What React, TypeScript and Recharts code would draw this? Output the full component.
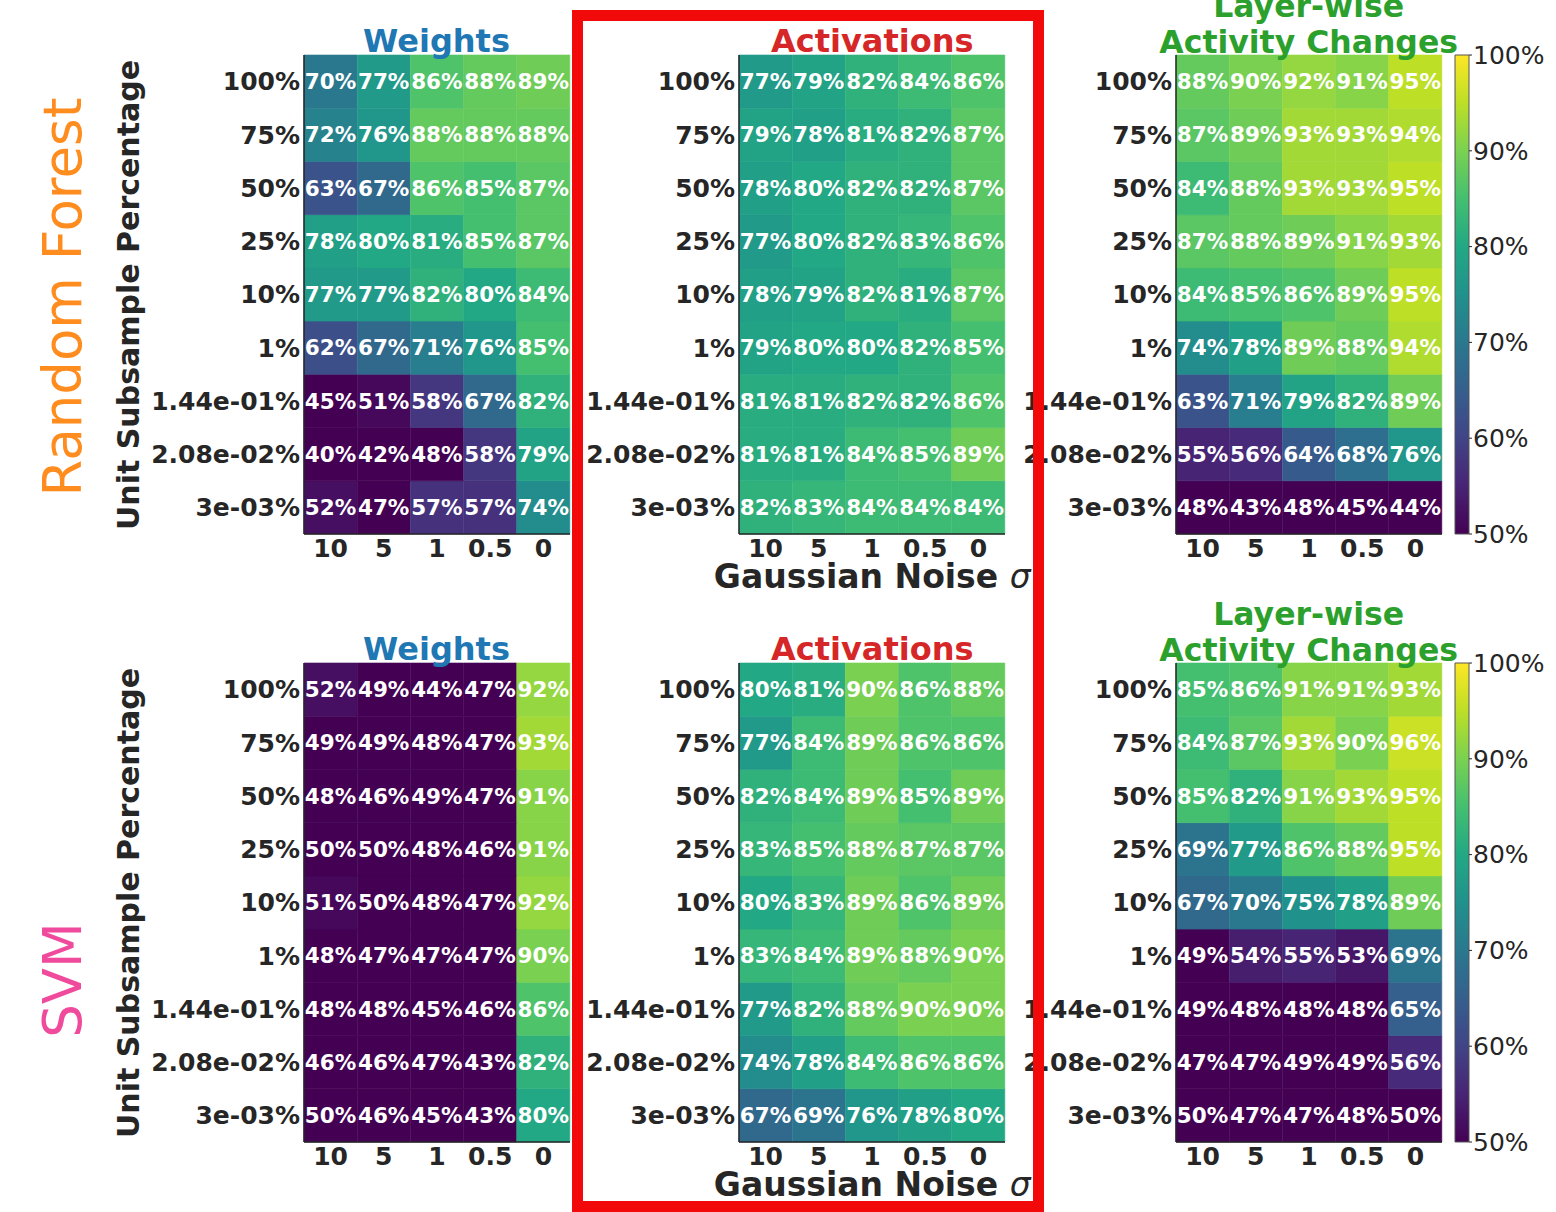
import React from 'react';
import { BarChart, Bar, XAxis, YAxis, Cell, LabelList } from 'recharts';

// ---------- data ----------
const noiseLevels = ['10', '5', '1', '0.5', '0'];
const subsampleLabels = ['100%', '75%', '50%', '25%', '10%', '1%', '1.44e-01%', '2.08e-02%', '3e-03%'];
const colorbarTicks = [50, 60, 70, 80, 90, 100];

const rfWeights = [
  [70, 77, 86, 88, 89],
  [72, 76, 88, 88, 88],
  [63, 67, 86, 85, 87],
  [78, 80, 81, 85, 87],
  [77, 77, 82, 80, 84],
  [62, 67, 71, 76, 85],
  [45, 51, 58, 67, 82],
  [40, 42, 48, 58, 79],
  [52, 47, 57, 57, 74],
];
const rfActivations = [
  [77, 79, 82, 84, 86],
  [79, 78, 81, 82, 87],
  [78, 80, 82, 82, 87],
  [77, 80, 82, 83, 86],
  [78, 79, 82, 81, 87],
  [79, 80, 80, 82, 85],
  [81, 81, 82, 82, 86],
  [81, 81, 84, 85, 89],
  [82, 83, 84, 84, 84],
];
const rfLayerwise = [
  [88, 90, 92, 91, 95],
  [87, 89, 93, 93, 94],
  [84, 88, 93, 93, 95],
  [87, 88, 89, 91, 93],
  [84, 85, 86, 89, 95],
  [74, 78, 89, 88, 94],
  [63, 71, 79, 82, 89],
  [55, 56, 64, 68, 76],
  [48, 43, 48, 45, 44],
];
const svmWeights = [
  [52, 49, 44, 47, 92],
  [49, 49, 48, 47, 93],
  [48, 46, 49, 47, 91],
  [50, 50, 48, 46, 91],
  [51, 50, 48, 47, 92],
  [48, 47, 47, 47, 90],
  [48, 48, 45, 46, 86],
  [46, 46, 47, 43, 82],
  [50, 46, 45, 43, 80],
];
const svmActivations = [
  [80, 81, 90, 86, 88],
  [77, 84, 89, 86, 86],
  [82, 84, 89, 85, 89],
  [83, 85, 88, 87, 87],
  [80, 83, 89, 86, 89],
  [83, 84, 89, 88, 90],
  [77, 82, 88, 90, 90],
  [74, 78, 84, 86, 86],
  [67, 69, 76, 78, 80],
];
const svmLayerwise = [
  [85, 86, 91, 91, 93],
  [84, 87, 93, 90, 96],
  [85, 82, 91, 93, 95],
  [69, 77, 86, 88, 95],
  [67, 70, 75, 78, 89],
  [49, 54, 55, 53, 69],
  [49, 48, 48, 48, 65],
  [47, 47, 49, 49, 56],
  [50, 47, 47, 48, 50],
];

// ---------- colormap ----------
const viridisStops = ['#440154', '#482475', '#414487', '#355f8d', '#2a788e', '#21918c', '#22a884', '#44bf70', '#7ad151', '#bddf26', '#fde725'];
const hex = (h: string) => [1, 3, 5].map((i) => parseInt(h.slice(i, i + 2), 16));
function viridis(v: number) {
  let t = (v - 50) / 50;
  t = Math.max(0, Math.min(1, t));
  const p = t * 10;
  const i = Math.min(9, Math.floor(p));
  const f = p - i;
  const a = hex(viridisStops[i]);
  const b = hex(viridisStops[i + 1]);
  const c = a.map((x, k) => Math.round(x + (b[k] - x) * f));
  return `rgb(${c[0]},${c[1]},${c[2]})`;
}

// ---------- layout ----------
const FONT = 'DejaVu Sans';
const DARK = '#262626';
const PX = [303.5, 739.2, 1175.7];
const PY = [55.3, 663.3];
const PW = 266;
const PH = 479;
const YW = 230;
const MT = 2;
const MR = 2;
const XH = 45;
const CBX = 1455;
const CBW = 14;
const CBMT = 20;

const border = { stroke: DARK, strokeWidth: 1.5 };
const tickStyle = { fill: DARK, fontSize: 25, fontWeight: 'bold', fontFamily: FONT };

function buildData(m: number[][]) {
  return noiseLevels.map((col, j) => {
    const d: any = { col };
    for (let k = 0; k < 9; k++) {
      d['r' + k] = 1;
      d['v' + k] = m[8 - k][j];
    }
    return d;
  });
}

function Heatmap({ matrix, left, top }: { matrix: number[][]; left: number; top: number }) {
  const data = buildData(matrix);
  const bars = [];
  for (let k = 0; k < 9; k++) {
    bars.push(
      <Bar key={k} dataKey={'r' + k} stackId="s" isAnimationActive={false}>
        {noiseLevels.map((_, j) => {
          const c = viridis(matrix[8 - k][j]);
          return <Cell key={j} fill={c} stroke={c} strokeWidth={0.6} />;
        })}
        <LabelList
          dataKey={'v' + k}
          position="center"
          formatter={(v: any) => `${v}%`}
          fill="#ffffff"
          fontSize={21.5}
          fontWeight="bold"
          fontFamily={FONT}
        />
      </Bar>
    );
  }
  return (
    <div style={{ position: 'absolute', left: left - YW, top: top - MT }}>
      <BarChart
        width={YW + PW + MR}
        height={MT + PH + XH}
        data={data}
        margin={{ top: MT, right: MR, bottom: 0, left: 0 }}
        barCategoryGap={0}
        barGap={0}
      >
        <XAxis
          dataKey="col"
          type="category"
          height={XH}
          tickSize={0}
          tickMargin={5}
          tick={tickStyle}
          tickLine={false}
          axisLine={border}
          interval={0}
        />
        <XAxis xAxisId="top" orientation="top" dataKey="col" height={0} tick={false} tickLine={false} axisLine={border} />
        <YAxis
          type="number"
          domain={[0, 9]}
          ticks={[0.5, 1.5, 2.5, 3.5, 4.5, 5.5, 6.5, 7.5, 8.5]}
          width={YW}
          tickSize={0}
          tickMargin={4}
          tickFormatter={(v: number) => subsampleLabels[8 - Math.floor(v)]}
          tick={tickStyle}
          tickLine={false}
          axisLine={border}
          interval={0}
        />
        <YAxis yAxisId="right" orientation="right" type="number" domain={[0, 9]} width={0} tick={false} tickLine={false} axisLine={border} />
        {bars}
      </BarChart>
    </div>
  );
}

function Colorbar({ top, id }: { top: number; id: string }) {
  return (
    <div style={{ position: 'absolute', left: CBX - 2, top: top - CBMT }}>
      <BarChart
        width={2 + CBW + 100}
        height={CBMT + PH + 20}
        data={[{ c: 'cb', range: [50, 100] }]}
        margin={{ top: CBMT, right: 0, bottom: 20, left: 2 }}
        barCategoryGap={0}
      >
        <defs>
          <linearGradient id={id} x1="0" y1="1" x2="0" y2="0">
            {viridisStops.map((c, i) => (
              <stop key={i} offset={`${i * 10}%`} stopColor={c} />
            ))}
          </linearGradient>
        </defs>
        <XAxis dataKey="c" hide />
        <YAxis
          orientation="right"
          type="number"
          domain={[50, 100]}
          ticks={colorbarTicks}
          width={100}
          tickSize={3}
          tickMargin={1}
          tickFormatter={(v: number) => `${v}%`}
          axisLine={false}
          tickLine={{ stroke: DARK }}
          tick={{ fill: DARK, fontSize: 25, fontFamily: FONT }}
          interval={0}
        />
        <Bar dataKey="range" fill={`url(#${id})`} stroke="#555" strokeWidth={1} isAnimationActive={false} />
      </BarChart>
    </div>
  );
}

const rows = [
  { name: 'Random Forest', color: '#ff8c1f', mats: [rfWeights, rfActivations, rfLayerwise] },
  { name: 'SVM', color: '#f04a9c', mats: [svmWeights, svmActivations, svmLayerwise] },
];

export default function App() {
  return (
    <div style={{ position: 'absolute', left: 0, top: 0, width: 1556, height: 1212, background: '#fff', fontFamily: FONT }}>
      {rows.map((row, r) =>
        row.mats.map((m, c) => <Heatmap key={`${r}-${c}`} matrix={m} left={PX[c]} top={PY[r]} />)
      )}
      <Colorbar top={PY[0]} id="vg0" />
      <Colorbar top={PY[1]} id="vg1" />
      <svg width={1556} height={1212} style={{ position: 'absolute', left: 0, top: 0, pointerEvents: 'none' }}>
        {rows.map((row, r) => {
          const dy = r * 608;
          const cy = 295 + dy;
          return (
            <g key={r} fontFamily={FONT}>
              <text
                transform={`translate(81, ${r === 0 ? 297 : 980}) rotate(-90)`}
                textAnchor="middle"
                fontSize={53}
                fill={row.color}
              >
                {row.name}
              </text>
              <text transform={`translate(139, ${cy}) rotate(-90)`} textAnchor="middle" fontSize={30} fontWeight="bold" fill={DARK}>
                Unit Subsample Percentage
              </text>
              <text x={PX[0] + PW / 2} y={52 + dy} textAnchor="middle" fontSize={32} fontWeight="bold" fill="#1f77b4">
                Weights
              </text>
              <text x={PX[1] + PW / 2} y={52 + dy} textAnchor="middle" fontSize={32} fontWeight="bold" fill="#d62728">
                Activations
              </text>
              <text x={PX[2] + PW / 2} y={17 + dy} textAnchor="middle" fontSize={31.5} fontWeight="bold" fill="#2ca02c">
                Layer-wise
              </text>
              <text x={PX[2] + PW / 2} y={53 + dy} textAnchor="middle" fontSize={31.5} fontWeight="bold" fill="#2ca02c">
                Activity Changes
              </text>
              <text x={PX[1] + PW / 2} y={588 + dy} textAnchor="middle" fontSize={33} fontWeight="bold" fill={DARK}>
                Gaussian Noise <tspan fontStyle="italic" fontWeight="normal">σ</tspan>
              </text>
            </g>
          );
        })}
        <rect x={577.5} y={15.5} width={461} height={1191} fill="none" stroke="#f20a0a" strokeWidth={11} />
      </svg>
    </div>
  );
}
